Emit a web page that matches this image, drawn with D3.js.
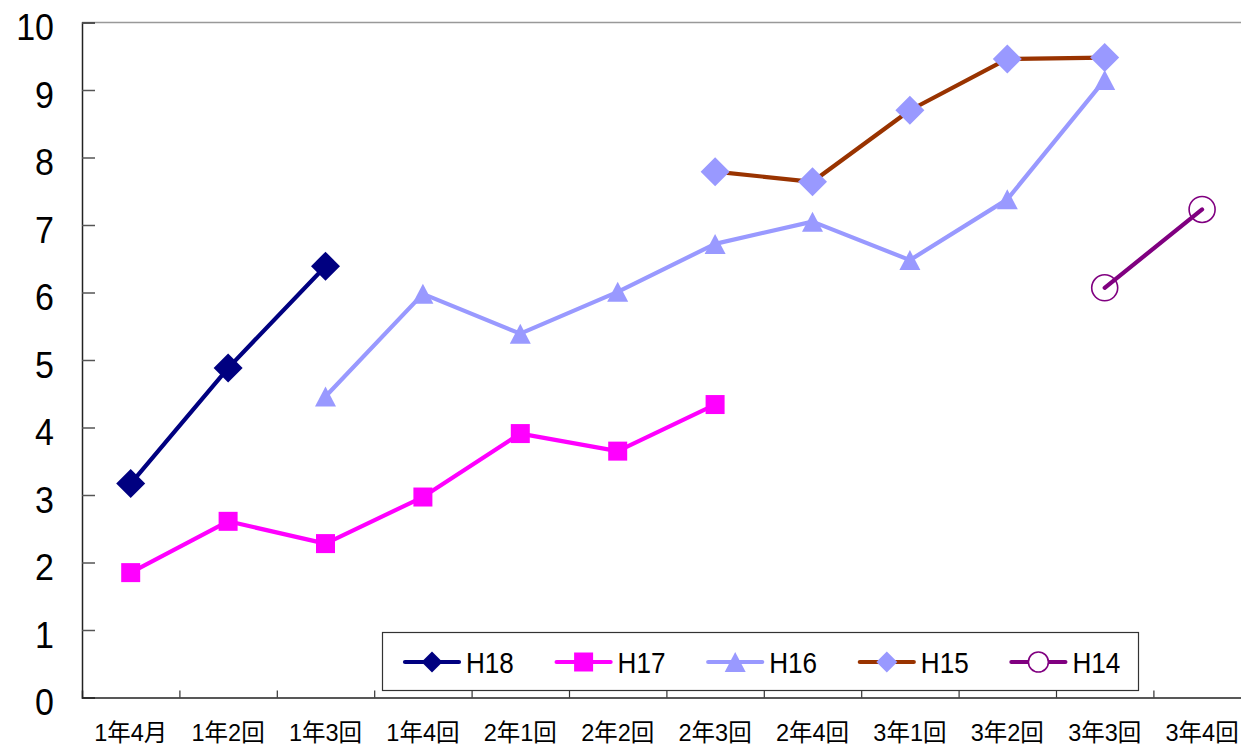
<!DOCTYPE html>
<html>
<head>
<meta charset="utf-8">
<script src="https://cdn.jsdelivr.net/npm/d3@7/dist/d3.min.js"></script>
<style>
  html, body { margin: 0; padding: 0; background: #fff; }
  svg { display: block; }
  text { font-family: "Liberation Sans", Arial, "Noto Sans CJK JP", sans-serif; fill: #000; }
</style>
</head>
<body>
<svg id="chart" width="1241" height="747"></svg>
<script>
// Categories along the x axis
const categories = ["1年4月", "1年2回", "1年3回", "1年4回", "2年1回", "2年2回",
                    "2年3回", "2年4回", "3年1回", "3年2回", "3年3回", "3年4回"];
const yTicks = [0, 1, 2, 3, 4, 5, 6, 7, 8, 9, 10];
const seriesNames = ["H18", "H17", "H16", "H15", "H14"];

// Series values (null = no value for that category)
const h18 = [3.17, 4.88, 6.39, null, null, null, null, null, null, null, null, null];
const h17 = [1.85, 2.61, 2.28, 2.97, 3.91, 3.65, 4.34, null, null, null, null, null];
const h16 = [null, null, 4.46, 5.98, 5.39, 6.01, 6.72, 7.05, 6.48, 7.38, 9.15, null];
const h15 = [null, null, null, null, null, null, 7.79, 7.64, 8.70, 9.46, 9.48, null];
const h14 = [null, null, null, null, null, null, null, null, null, null, 6.07, 7.23];

const series = [
  { name: seriesNames[0], values: h18, line: "#000080", fill: "#000080", shape: "diamond" },
  { name: seriesNames[1], values: h17, line: "#FF00FF", fill: "#FF00FF", shape: "square" },
  { name: seriesNames[2], values: h16, line: "#9999FF", fill: "#9999FF", shape: "triangle" },
  { name: seriesNames[3], values: h15, line: "#993300", fill: "#9999FF", shape: "diamond" },
  { name: seriesNames[4], values: h14, line: "#800080", fill: "none",    shape: "circle" }
];

const svg = d3.select("#chart");
const plotLeft = 82, plotTop = 22.5, plotBottom = 697.5, band = 97.4;
const plotRight = plotLeft + band * categories.length;

const x = d3.scaleBand().domain(categories).range([plotLeft, plotRight]).padding(0);
const y = d3.scaleLinear().domain([0, 10]).range([plotBottom, plotTop]);
const cx = c => x(c) + x.bandwidth() / 2;

// Marker path generator, centred on (0,0)
function markerPath(shape, s) {
  if (shape === "diamond") return `M0,${-s}L${s},0L0,${s}L${-s},0Z`;
  if (shape === "square") return `M${-s},${-s}H${s}V${s}H${-s}Z`;
  if (shape === "triangle") return `M0,${-s}L${s * 1.05},${s}L${-s * 1.05},${s}Z`;
  return null;
}
const markerSize = { diamond: 14.5, square: 9.5, triangle: 10, circle: 13 };
const legendMarkerSize = { diamond: 10.5, square: 9.5, triangle: 10, circle: 10 };

// Plot frame: grey top edge
svg.append("line")
  .attr("x1", plotLeft).attr("x2", plotRight)
  .attr("y1", plotTop).attr("y2", plotTop)
  .attr("stroke", "#999").attr("stroke-width", 1.5);

// Y axis with inward ticks
const yAxis = d3.axisRight(y).tickValues(yTicks).tickSize(13).tickFormat("");
const yg = svg.append("g").attr("transform", `translate(${plotLeft},0)`).call(yAxis);
yg.select(".domain").attr("stroke", "#222").attr("stroke-width", 1.5);
yg.selectAll(".tick line").attr("stroke", "#555").attr("stroke-width", 1.5);

// Y tick labels
svg.append("g").selectAll("text")
  .data(yTicks)
  .join("text")
  .attr("transform", d => `translate(54,${y(d) + 4.5 + 13.3}) scale(0.92,1)`)
  .attr("text-anchor", "end")
  .attr("font-size", 37)
  .text(d => d);

// X axis: ticks at category boundaries, pointing up
const xb = d3.scaleLinear().domain([0, categories.length]).range([plotLeft, plotRight]);
const xAxis = d3.axisTop(xb).tickValues(d3.range(1, categories.length + 1)).tickSize(7).tickFormat("");
const xg = svg.append("g").attr("transform", `translate(0,${plotBottom})`).call(xAxis);
xg.select(".domain").attr("stroke", "#222").attr("stroke-width", 1.5);
xg.selectAll(".tick line").attr("stroke", "#333").attr("stroke-width", 1.2);

// X category labels
svg.append("g").selectAll("text")
  .data(categories)
  .join("text")
  .attr("x", d => cx(d))
  .attr("y", 741)
  .attr("text-anchor", "middle")
  .attr("font-size", 23.5)
  .text(d => d);

// Series lines and markers
const lineGen = d3.line()
  .defined(d => d.v !== null)
  .x(d => cx(d.c))
  .y(d => y(d.v));

series.forEach(s => {
  const pts = categories.map((c, i) => ({ c, v: s.values[i] }));
  const g = svg.append("g");
  g.append("path")
    .datum(pts)
    .attr("d", lineGen)
    .attr("fill", "none")
    .attr("stroke", s.line)
    .attr("stroke-width", 4.2)
    .attr("stroke-linejoin", "round")
    .attr("stroke-linecap", "round");
  const valid = pts.filter(d => d.v !== null);
  if (s.shape === "circle") {
    g.selectAll("circle").data(valid).join("circle")
      .attr("cx", d => cx(d.c)).attr("cy", d => y(d.v))
      .attr("r", markerSize.circle)
      .attr("fill", "none").attr("stroke", s.line).attr("stroke-width", 1.6);
  } else {
    g.selectAll("path.m").data(valid).join("path")
      .attr("class", "m")
      .attr("transform", d => `translate(${cx(d.c)},${y(d.v)})`)
      .attr("d", markerPath(s.shape, markerSize[s.shape]))
      .attr("fill", s.fill);
  }
});

// Legend
const legend = svg.append("g");
legend.append("rect")
  .attr("x", 382.5).attr("y", 632.5)
  .attr("width", 756).attr("height", 58)
  .attr("fill", "#fff").attr("stroke", "#333").attr("stroke-width", 1.2);

const legendStart = 405, legendStep = 151.6, legendY = 662;
series.forEach((s, i) => {
  const lx = legendStart + i * legendStep;
  const g = legend.append("g");
  g.append("line")
    .attr("x1", lx).attr("x2", lx + 54)
    .attr("y1", legendY).attr("y2", legendY)
    .attr("stroke", s.line).attr("stroke-width", 4.2)
    .attr("stroke-linecap", "round");
  if (s.shape === "circle") {
    g.append("circle")
      .attr("cx", lx + 27).attr("cy", legendY).attr("r", legendMarkerSize.circle)
      .attr("fill", "#fff").attr("stroke", s.line).attr("stroke-width", 1.6);
  } else {
    g.append("path")
      .attr("transform", `translate(${lx + 27},${legendY})`)
      .attr("d", markerPath(s.shape, legendMarkerSize[s.shape]))
      .attr("fill", s.fill);
  }
  g.append("text")
    .attr("transform", `translate(${lx + 61},${legendY + 11}) scale(0.9,1)`)
    .attr("font-size", 29)
    .text(s.name);
});
</script>
</body>
</html>
